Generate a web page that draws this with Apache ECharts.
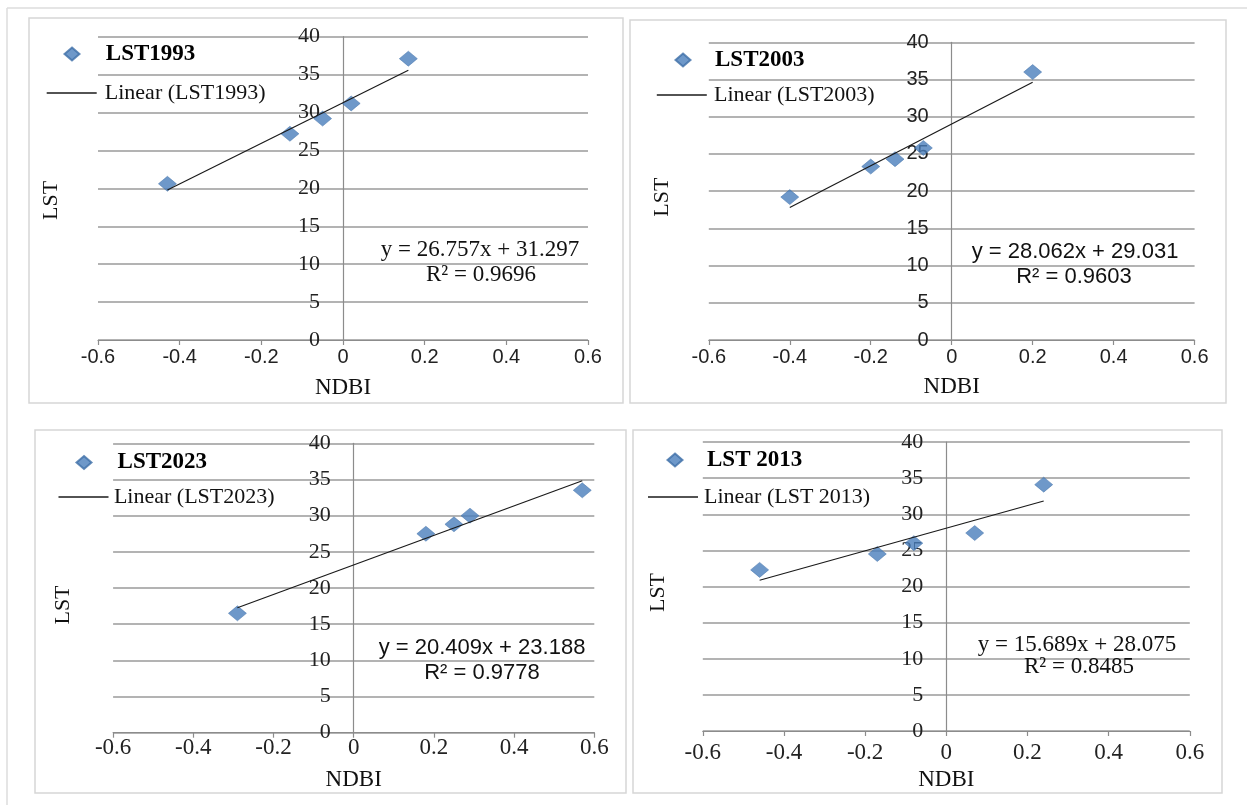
<!DOCTYPE html>
<html>
<head>
<meta charset="utf-8">
<script src="https://cdn.jsdelivr.net/npm/echarts@6/dist/echarts.min.js"></script>
<style>
  html, body { margin: 0; padding: 0; background: #ffffff; }
  #chart { width: 1247px; height: 805px; }
</style>
</head>
<body>
<div id="chart"></div>
<script>
// ---------------- DATA ----------------
const panelNames = ['LST1993', 'LST2003', 'LST2023', 'LST 2013'];

const ndbi1993 = [-0.43, -0.13, -0.05, 0.02, 0.16];
const lst1993  = [20.6, 27.2, 29.2, 31.2, 37.1];

const ndbi2003 = [-0.40, -0.20, -0.14, -0.07, 0.20];
const lst2003  = [19.2, 23.3, 24.3, 25.8, 36.0];

const ndbi2023 = [-0.29, 0.18, 0.25, 0.29, 0.57];
const lst2023  = [16.5, 27.5, 28.8, 30.0, 33.5];

const ndbi2013 = [-0.46, -0.17, -0.08, 0.07, 0.24];
const lst2013  = [22.3, 24.5, 26.0, 27.4, 34.1];

// linear trendline end points (as drawn)
const trend1993 = [[-0.43, 19.79], [0.16, 35.58]];
const trend2003 = [[-0.40, 17.81], [0.20, 34.64]];
const trend2023 = [[-0.29, 17.27], [0.57, 34.82]];
const trend2013 = [[-0.46, 20.86], [0.24, 31.84]];

const equations = ['y = 26.757x + 31.297', 'y = 28.062x + 29.031', 'y = 20.409x + 23.188', 'y = 15.689x + 28.075'];
const rSquared  = ['R² = 0.9696', 'R² = 0.9603', 'R² = 0.9778', 'R² = 0.8485'];

const xAxisTitle = 'NDBI';
const yAxisTitle = 'LST';
const xMin = -0.6, xMax = 0.6, xStep = 0.2;
const yMin = 0, yMax = 40, yStep = 5;

// ---------------- LAYOUT / STYLE ----------------
const SERIF = "'Liberation Serif', 'Times New Roman', serif";
const SANS = "'Liberation Sans', Arial, sans-serif";

const xs = [ndbi1993, ndbi2003, ndbi2023, ndbi2013];
const ys = [lst1993, lst2003, lst2023, lst2013];
const trends = [trend1993, trend2003, trend2023, trend2013];

const layout = [
  { grid: {left: 98, top: 36.7, width: 490, height: 303.3}, frame: [29, 18, 594, 385],
    legA: {left: 63.5, cy: 54, tx: 104.8}, legB: {left: 46.7, cy: 93, tx: 104.8},
    yFont: SERIF, yFs: 22, xFont: SANS, xFs: 20, xMargin: 7, xNameGap: 36.5, yNameX: 51.4, yNameShift: 12,
    eqFont: SERIF, eqFs: 23, eq: [480, 250], r2: [481, 275] },
  { grid: {left: 708.8, top: 42.3, width: 485.8, height: 297.7}, frame: [630, 20, 596, 383],
    legA: {left: 674.5, cy: 60, tx: 714}, legB: {left: 656.8, cy: 95, tx: 714},
    yFont: SANS, yFs: 20, xFont: SANS, xFs: 20, xMargin: 7, xNameGap: 35.5, yNameX: 662, yNameShift: 6,
    eqFont: SANS, eqFs: 22, eq: [1075, 252], r2: [1074, 277] },
  { grid: {left: 113.1, top: 443.3, width: 481.2, height: 289.4}, frame: [35, 430, 591, 363],
    legA: {left: 75.5, cy: 462.5, tx: 116.6}, legB: {left: 58.5, cy: 497, tx: 113.9},
    yFont: SERIF, yFs: 22, xFont: SERIF, xFs: 23, xMargin: 4, xNameGap: 35.8, yNameX: 63, yNameShift: 17,
    eqFont: SANS, eqFs: 22, eq: [482, 648], r2: [482, 673] },
  { grid: {left: 702.8, top: 442, width: 487, height: 289}, frame: [633, 430, 589, 363],
    legA: {left: 666.5, cy: 460, tx: 706}, legB: {left: 648, cy: 497, tx: 704},
    yFont: SERIF, yFs: 22, xFont: SERIF, xFs: 23, xMargin: 10.8, xNameGap: 37.5, yNameX: 658, yNameShift: 6,
    eqFont: SERIF, eqFs: 23, eq: [1077, 645], r2: [1079, 667] }
];

const AXIS_COLOR = '#8c8c8c';
const GRID_COLOR = '#9a9a9a';
const MARK_COLOR = '#4a7ebb';
const TREND_COLOR = '#1a1a1a';

const grids = [], xAxes = [], yAxes = [], series = [], legends = [], graphics = [];

// outer border lines
graphics.push({ type: 'line', shape: {x1: 7, y1: 8, x2: 1247, y2: 8}, style: {stroke: '#dcdcdc', lineWidth: 1.5}, z: 0 });
graphics.push({ type: 'line', shape: {x1: 7, y1: 8, x2: 7, y2: 805}, style: {stroke: '#dcdcdc', lineWidth: 1.5}, z: 0 });

for (let i = 0; i < 4; i++) {
  const L = layout[i];
  grids.push(Object.assign({containLabel: false, outerBoundsMode: 'none'}, L.grid));

  // pixel position of x = 0 inside this grid; the y axis is shifted there
  const zeroX = L.grid.left + L.grid.width * (0 - xMin) / (xMax - xMin);
  const yOffset = -(zeroX - L.grid.left);

  xAxes.push({
    gridIndex: i, type: 'value', min: xMin, max: xMax, interval: xStep,
    axisLine: {show: true, onZero: false, lineStyle: {color: AXIS_COLOR, width: 1.2}},
    axisTick: {show: true, inside: false, length: 5, lineStyle: {color: AXIS_COLOR, width: 1.2}},
    splitLine: {show: false},
    axisLabel: {margin: L.xMargin, fontFamily: L.xFont, fontSize: L.xFs, color: '#222'},
    name: xAxisTitle, nameLocation: 'middle', nameGap: L.xNameGap,
    nameTextStyle: {fontFamily: SERIF, fontSize: 23, color: '#111'}
  });

  yAxes.push({
    gridIndex: i, type: 'value', min: yMin, max: yMax, interval: yStep,
    position: 'left', offset: yOffset,
    axisLine: {show: true, onZero: false, lineStyle: {color: AXIS_COLOR, width: 1.2}},
    axisTick: {show: false},
    splitLine: {show: true, lineStyle: {color: GRID_COLOR, width: 1.5}},
    axisLabel: {margin: 23, fontFamily: L.yFont, fontSize: L.yFs, color: '#222'},
    name: yAxisTitle, nameLocation: 'middle', nameGap: zeroX - L.yNameX - 11,
    nameTextStyle: {fontFamily: SERIF, fontSize: 22, color: '#111', padding: [0, 2 * L.yNameShift, 0, 0]}
  });

  const pts = xs[i].map((x, k) => [x, ys[i][k]]);
  series.push({
    type: 'scatter', name: panelNames[i], xAxisIndex: i, yAxisIndex: i,
    data: pts, symbol: 'diamond', symbolSize: [18, 15],
    itemStyle: {color: MARK_COLOR, borderColor: '#3f6fa8', borderWidth: 0.6}, z: 2
  });
  series.push({
    type: 'line', name: 'Linear (' + panelNames[i] + ')', xAxisIndex: i, yAxisIndex: i,
    data: trends[i], symbol: 'none', showSymbol: false, color: TREND_COLOR,
    lineStyle: {color: TREND_COLOR, width: 1.2}, itemStyle: {color: TREND_COLOR}, z: 3, silent: true
  });

  legends.push({
    data: [{name: panelNames[i], icon: 'diamond'}],
    left: L.legA.left, top: L.legA.cy - 11.5, padding: 0,
    itemWidth: 15, itemHeight: 13, selectedMode: false,
    textStyle: {fontFamily: SERIF, fontWeight: 'bold', fontSize: 23, color: '#000',
                padding: [0, 0, 0, L.legA.tx - L.legA.left - 20]}
  });
  legends.push({
    data: [{name: 'Linear (' + panelNames[i] + ')', icon: 'rect'}],
    left: L.legB.left, top: L.legB.cy - 11, padding: 0,
    itemWidth: 50, itemHeight: 1.5, selectedMode: false,
    textStyle: {fontFamily: SERIF, fontSize: 22, color: '#111',
                padding: [0, 0, 0, Math.max(0, L.legB.tx - L.legB.left - 55)]}
  });

  const f = L.frame;
  graphics.push({ type: 'rect', shape: {x: f[0], y: f[1], width: f[2], height: f[3]},
                  style: {fill: 'none', stroke: '#d6d6d6', lineWidth: 1.5}, z: 0 });
  graphics.push({ type: 'text', x: L.eq[0], y: L.eq[1], z: 10,
                  style: {text: equations[i], fill: '#111', font: L.eqFs + 'px ' + L.eqFont,
                          align: 'center', verticalAlign: 'middle', textAlign: 'center', textVerticalAlign: 'middle'} });
  graphics.push({ type: 'text', x: L.r2[0], y: L.r2[1], z: 10,
                  style: {text: rSquared[i], fill: '#111', font: L.eqFs + 'px ' + L.eqFont,
                          align: 'center', verticalAlign: 'middle', textAlign: 'center', textVerticalAlign: 'middle'} });
}

const chart = echarts.init(document.getElementById('chart'), null, {renderer: 'canvas'});
chart.setOption({
  backgroundColor: '#ffffff',
  animation: false,
  grid: grids,
  xAxis: xAxes,
  yAxis: yAxes,
  legend: legends,
  series: series,
  graphic: graphics
});
</script>
</body>
</html>
